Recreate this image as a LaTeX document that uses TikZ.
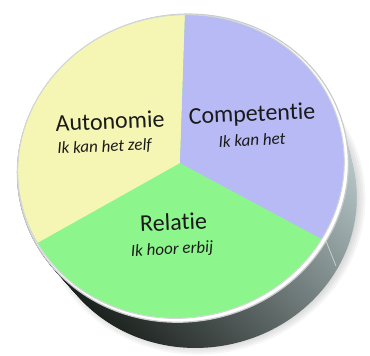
\documentclass[tikz,border=0pt]{standalone}
\usepackage{fontspec}
\setmainfont{Carlito}[Ligatures={NoCommon,NoRequired,NoContextual}]
\definecolor{yel}{RGB}{245,245,180}
\definecolor{pur}{RGB}{184,186,245}
\definecolor{grn}{RGB}{140,245,140}
\definecolor{sideA}{RGB}{22,27,23}
\definecolor{sideB}{RGB}{95,113,99}
\definecolor{sideC}{RGB}{196,214,216}
\definecolor{rimc}{RGB}{200,204,204}
\definecolor{txt}{RGB}{26,26,26}
\tikzset{
  face/.style={rotate around={12:(181,166.5)}},
  title/.style={font=\fontsize{24}{28}\selectfont, text=txt, inner sep=0pt, rotate=2.5},
  sub/.style={font=\fontsize{17}{20}\selectfont\itshape, text=txt, inner sep=0pt, rotate=2.5},
}
\begin{document}
\begin{tikzpicture}[x=1pt,y=-1pt]
\useasboundingbox (0,0) rectangle (370,356);
% soft shadow
\foreach \i in {0,1,...,5}{
  \fill[black,opacity=0.035,rotate around={12:(203,203)}] (203,203) ellipse ({163-\i*2} and {151-\i*2});
}
% side of the disc
\foreach \s in {0,1,...,24}{
  \pgfmathsetmacro{\sx}{182.5+\s*0.75}
  \pgfmathsetmacro{\sy}{168.5+\s*1.4167}
  \pgfmathsetmacro{\ra}{166-\s*0.3875}
  \pgfmathsetmacro{\rb}{153.5-\s*0.3583}
  \shade[top color=sideA, middle color=sideB, bottom color=sideC, shading angle=135,
         rotate around={12:(\sx,\sy)}]
    (\sx,\sy) ellipse (\ra pt and \rb pt);
}
% seam on the side
\draw[white,opacity=0.55,line width=0.8pt] (326,241) -- (336,266);
% rim
\fill[white,face] (182.5,168.5) ellipse (166 and 153.5);
\draw[rimc,line width=1.2pt,face] (182.5,168.5) ellipse (166 and 153.5);
% face
\begin{scope}
  \clip[face] (181,166.5) ellipse (163.5 and 151);
  \fill[grn] (-50,-50) rectangle (420,420);
  \fill[yel] (180,163) -- (195,-284) -- (-400,-284) -- (-400,488) -- cycle;
  \fill[pur] (180,163) -- (195,-284) -- (600,-284) -- (600,388) -- cycle;
\end{scope}
\draw[rimc!80!white,line width=1pt,face] (181,166.5) ellipse (163.8 and 151.3);
% texts
\node[title] (auto) at (110,121) {Autonomie};
\node[sub] (autos) at (104.5,147) {Ik kan het zelf};
\node[title] (comp) at (252,115) {Competentie};
\node[sub] (comps) at (252,140) {Ik kan het};
\node[title] (rel) at (173.5,222) {Relatie};
\node[sub] (rels) at (172,250) {Ik hoor erbij};
\end{tikzpicture}
\end{document}
